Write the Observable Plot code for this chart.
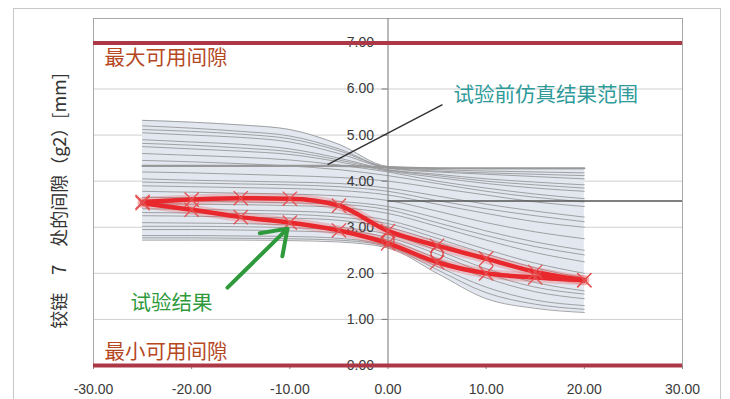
<!DOCTYPE html>
<html><head><meta charset="utf-8">
<script src="https://cdn.jsdelivr.net/npm/d3@7"></script>
<script src="https://cdn.jsdelivr.net/npm/@observablehq/plot@0.6"></script>
<style>
body{margin:0;background:#fff;}
#wrap{position:relative;width:730px;height:399px;overflow:hidden;}
#border{position:absolute;left:13px;top:8px;width:708px;height:420px;border:1px solid #c8c8c8;box-sizing:border-box;}
#chart{position:absolute;left:0;top:0;}
</style></head><body>
<div id="wrap"><div id="border"></div><div id="chart"></div></div>
<script>
// x positions of the simulation / test samples
const xs = [-25, -20, -15, -10, -5, 0, 5, 10, 15, 20];

// pre-test simulation curves (values at xs)
const simLines = [
  [5.32, 5.28, 5.22, 5.12, 4.80, 4.32, 4.28, 4.27, 4.27, 4.27],
  [5.20, 5.15, 5.08, 4.98, 4.70, 4.30, 4.25, 4.22, 4.20, 4.18],
  [5.12, 5.08, 5.02, 4.92, 4.66, 4.29, 4.22, 4.18, 4.15, 4.12],
  [5.05, 5.00, 4.95, 4.85, 4.60, 4.28, 4.20, 4.15, 4.10, 4.05],
  [4.90, 4.85, 4.80, 4.70, 4.50, 4.25, 4.15, 4.05, 3.98, 3.92],
  [4.82, 4.78, 4.72, 4.64, 4.46, 4.24, 4.12, 4.00, 3.92, 3.85],
  [4.75, 4.70, 4.65, 4.58, 4.42, 4.22, 4.08, 3.95, 3.85, 3.78],
  [4.60, 4.56, 4.52, 4.46, 4.35, 4.20, 4.00, 3.85, 3.72, 3.62],
  [4.45, 4.42, 4.38, 4.33, 4.25, 4.12, 3.95, 3.78, 3.65, 3.55],
  [4.20, 4.18, 4.15, 4.12, 4.08, 4.00, 3.85, 3.70, 3.55, 3.45],
  [4.05, 4.02, 4.00, 3.98, 3.95, 3.85, 3.68, 3.50, 3.35, 3.22],
  [3.98, 3.96, 3.94, 3.92, 3.88, 3.78, 3.58, 3.40, 3.25, 3.12],
  [3.90, 3.88, 3.86, 3.84, 3.80, 3.70, 3.50, 3.30, 3.12, 3.00],
  [3.78, 3.76, 3.74, 3.72, 3.68, 3.58, 3.35, 3.10, 2.90, 2.75],
  [3.65, 3.64, 3.62, 3.60, 3.56, 3.45, 3.20, 2.92, 2.68, 2.50],
  [3.58, 3.57, 3.55, 3.53, 3.50, 3.38, 3.10, 2.82, 2.58, 2.40],
  [3.52, 3.50, 3.49, 3.47, 3.43, 3.30, 3.02, 2.72, 2.45, 2.25],
  [3.40, 3.39, 3.37, 3.35, 3.30, 3.15, 2.85, 2.52, 2.22, 2.00],
  [3.32, 3.31, 3.30, 3.28, 3.22, 3.08, 2.76, 2.42, 2.12, 1.90],
  [3.25, 3.24, 3.22, 3.20, 3.15, 3.00, 2.68, 2.30, 2.00, 1.80],
  [3.10, 3.09, 3.08, 3.05, 3.00, 2.85, 2.50, 2.10, 1.80, 1.62],
  [3.02, 3.02, 3.01, 2.99, 2.94, 2.78, 2.42, 2.00, 1.70, 1.55],
  [2.95, 2.95, 2.94, 2.92, 2.88, 2.72, 2.32, 1.90, 1.60, 1.45],
  [2.82, 2.82, 2.81, 2.80, 2.76, 2.60, 2.15, 1.70, 1.42, 1.30],
  [2.77, 2.77, 2.76, 2.75, 2.72, 2.58, 2.08, 1.58, 1.33, 1.22],
  [2.72, 2.72, 2.72, 2.71, 2.68, 2.55, 2.00, 1.45, 1.24, 1.15]
];
// heavy envelope curve of the simulation
const simEnvelope = [4.33, 4.33, 4.33, 4.33, 4.33, 4.30, 4.28, 4.28, 4.28, 4.28];

// test results
const testUpper = [3.55, 3.60, 3.63, 3.62, 3.47, 2.92, 2.60, 2.32, 2.03, 1.85];
const testLower = [3.52, 3.38, 3.22, 3.10, 2.93, 2.65, 2.24, 2.00, 1.91, 1.85];
const circleX = [0, 5];
const circleY = [2.72, 2.43];

// axes
const xTicks = [-30, -20, -10, 0, 10, 20, 30];
const yTicks = [0, 1, 2, 3, 4, 5, 6, 7];
const gridY = [1, 2, 3, 4, 5, 6];
const limitMax = 7;
const limitMin = 0;
const refLineY = 3.57;

// labels
const yTitle = "铰链　7　处的间隙（g2）[mm]";
const labels = [
  {x: -28.88, y: 6.66, text: "最大可用间隙", color: "#b5481f"},
  {x: -28.88, y: 0.28, text: "最小可用间隙", color: "#b5481f"},
  {x: 6.67, y: 5.86, text: "试验前仿真结果范围", color: "#2e9a9a"},
  {x: -26.23, y: 1.345, text: "试验结果", color: "#2f9a3c"}
];
const pointer = [{x1: -6.16, y1: 4.36, x2: 5.55, y2: 5.66}];
const arrowTest = [{x1: -16.35, y1: 1.69, x2: -10.24, y2: 2.97}];

// build tables
const sim = simLines.flatMap((vals, i) => vals.map((v, j) => ({x: xs[j], y: v, id: i})));
const env = simEnvelope.map((v, j) => ({x: xs[j], y: v}));
const band = xs.map((x, j) => ({
  x,
  lo: d3.min(simLines, l => l[j]),
  hi: d3.max([...simLines.map(l => l[j]), simEnvelope[j]])
}));
const test = [
  ...testUpper.map((v, j) => ({x: xs[j], y: v, s: "u"})),
  ...testLower.map((v, j) => ({x: xs[j], y: v, s: "l"}))
];
const circles = circleX.map((x, i) => ({x, y: circleY[i]}));

const cjk = "'Noto Sans CJK SC', sans-serif";

const chart = Plot.plot({
  width: 730,
  height: 399,
  marginLeft: 93,
  marginRight: 48,
  marginTop: 18,
  marginBottom: 34,
  style: {fontFamily: "'Liberation Sans', Arial, sans-serif", background: "transparent", overflow: "visible"},
  x: {domain: [-30, 30], axis: null},
  y: {domain: [0, 7.53], axis: null},
  marks: [
    Plot.ruleY(gridY, {stroke: "#cfcfcf", strokeWidth: 1}),
    Plot.frame({stroke: "#a8a8a8"}),
    Plot.areaY(band, {x: "x", y1: "lo", y2: "hi", fill: "#e2e7f0", curve: "monotone-x"}),
    Plot.line(sim, {x: "x", y: "y", z: "id", stroke: "#8e8e8e", strokeWidth: 0.8, curve: "monotone-x"}),
    Plot.line(env, {x: "x", y: "y", stroke: "#999", strokeWidth: 2.2, curve: "monotone-x"}),
    Plot.ruleX([0], {stroke: "#8a8a8a", strokeWidth: 1.2}),
    Plot.ruleY([refLineY], {x1: 0, x2: 30, stroke: "#555", strokeWidth: 1.6}),
    Plot.ruleY(yTicks, {x1: -0.6, x2: 0, stroke: "#777"}),
    Plot.text(yTicks, {x: yTicks.map(() => 0), y: d => d, text: d => d.toFixed(2), textAnchor: "end", dx: -14, fontSize: 14, fill: "#3a3a3a"}),
    Plot.axisX(xTicks, {tickFormat: d => d.toFixed(2), tickSize: 4, tickPadding: 15, fontSize: 14, stroke: "#888", fill: "#3a3a3a"}),
    Plot.ruleY([limitMax, limitMin], {stroke: "#ab3747", strokeWidth: 4}),
    Plot.link(pointer, {x1: "x1", y1: "y1", x2: "x2", y2: "y2", stroke: "#333", strokeWidth: 1.5}),
    Plot.line(test, {x: "x", y: "y", z: "s", stroke: "#f04545", strokeWidth: 10, strokeOpacity: 0.25, curve: "monotone-x"}),
    Plot.line(test, {x: "x", y: "y", z: "s", stroke: "#e8282c", strokeWidth: 4.5, curve: "monotone-x"}),
    Plot.dot(test, {x: "x", y: "y", symbol: "times", r: 6.5, stroke: "#e55050", strokeWidth: 1.3}),
    Plot.dot(circles, {x: "x", y: "y", r: 6, stroke: "#e04545", strokeWidth: 1.3, fill: "none"}),
    Plot.arrow(arrowTest, {x1: "x1", y1: "y1", x2: "x2", y2: "y2", stroke: "#2f9a3c", strokeWidth: 4, headLength: 12, headAngle: 70}),
    Plot.text(labels, {x: "x", y: "y", text: "text", fill: "color", textAnchor: "start", fontSize: 20.5, fontFamily: cjk}),
    Plot.text([yTitle], {x: [-33.36], y: [3.57], rotate: -90, fontSize: 18, fill: "#333", fontFamily: cjk})
  ]
});
document.getElementById("chart").appendChild(chart);
</script>
</body></html>
